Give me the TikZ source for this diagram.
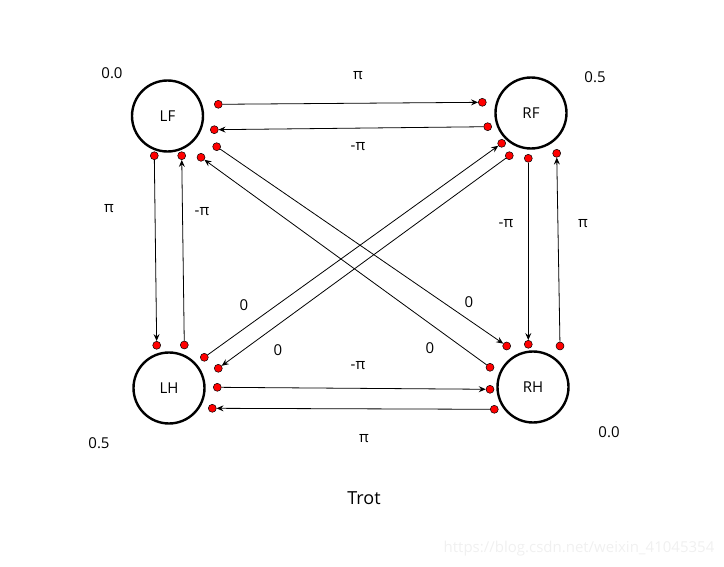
\documentclass[tikz,border=0pt]{standalone}
\usepackage{fontspec}
\setmainfont{Open Sans}
\usetikzlibrary{arrows.meta}
\begin{document}
\begin{tikzpicture}[x=1pt,y=-1pt,
  leg/.style={circle,draw=black,line width=2.4pt,minimum size=71pt,inner sep=0pt,font=\fontsize{15}{17}\selectfont},
  pin/.style={circle,draw=black,line width=0.5pt,fill=red,minimum size=8pt,inner sep=0pt},
  link/.style={line width=0.8pt,-{Stealth[length=7pt,width=6pt,inset=2.5pt]}},
  lab/.style={font=\fontsize{15}{17}\selectfont,inner sep=0pt}]
\useasboundingbox (0,0) rectangle (724,567);
% legs
\node[leg] (LF) at (167.5,116) {LF};
\node[leg] (RF) at (531,113) {RF};
\node[leg] (LH) at (169,388) {LH};
\node[leg] (RH) at (533,387) {RH};
% pins
\node[pin] (lf1) at (218.3,104.3) {};
\node[pin] (lf2) at (214.3,129.7) {};
\node[pin] (lf3) at (216.7,146.7) {};
\node[pin] (lf4) at (201,157.3) {};
\node[pin] (lf5) at (154.3,155.7) {};
\node[pin] (lf6) at (181.7,155.7) {};
\node[pin] (rf1) at (482.3,102.3) {};
\node[pin] (rf2) at (487.7,126.7) {};
\node[pin] (rf3) at (501.7,143.3) {};
\node[pin] (rf4) at (509.3,155.7) {};
\node[pin] (rf5) at (528.3,158.3) {};
\node[pin] (rf6) at (556.7,153.3) {};
\node[pin] (lh1) at (156.7,345.3) {};
\node[pin] (lh2) at (184.3,345) {};
\node[pin] (lh3) at (204.3,357.3) {};
\node[pin] (lh4) at (218.3,368.3) {};
\node[pin] (lh5) at (217.3,387.3) {};
\node[pin] (lh6) at (212.3,408.3) {};
\node[pin] (rh1) at (506.7,346) {};
\node[pin] (rh2) at (490,367.3) {};
\node[pin] (rh3) at (528.3,344.3) {};
\node[pin] (rh4) at (560,346) {};
\node[pin] (rh5) at (490,389.3) {};
\node[pin] (rh6) at (494.3,409.3) {};
% links
\draw[link] (lf1) -- (rf1);
\draw[link] (rf2) -- (lf2);
\draw[link] (lf3) -- (rh1);
\draw[link] (rh2) -- (lf4);
\draw[link] (lf5) -- (lh1);
\draw[link] (lh2) -- (lf6);
\draw[link] (lh3) -- (rf3);
\draw[link] (rf4) -- (lh4);
\draw[link] (lh5) -- (rh5);
\draw[link] (rh6) -- (lh6);
\draw[link] (rf5) -- (rh3);
\draw[link] (rh4) -- (rf6);
% phase labels
\node[lab] (pLF) at (112,73) {0.0};
\node[lab] (pRF) at (595,77) {0.5};
\node[lab] (pLH) at (99,443) {0.5};
\node[lab] (pRH) at (609,432) {0.0};
% link labels
\node[lab] (t1) at (358,76) {π};
\node[lab] (t2) at (358,147) {-π};
\node[lab] (t3) at (109,209) {π};
\node[lab] (t4) at (202,212) {-π};
\node[lab] (t5) at (506,224) {-π};
\node[lab] (t6) at (583,224) {π};
\node[lab] (t7) at (244,305) {0};
\node[lab] (t8) at (469,302) {0};
\node[lab] (t9) at (278,350) {0};
\node[lab] (t10) at (430,348) {0};
\node[lab] (t11) at (358,366) {-π};
\node[lab] (t12) at (364,439) {π};
\node[font=\fontsize{18}{21}\selectfont,inner sep=0pt] (title) at (364,498) {Trot};
\node[font=\fontsize{15}{17}\selectfont,text=black!6,inner sep=0pt] (wm) at (579,549) {https://blog.csdn.net/weixin\_41045354};
\end{tikzpicture}
\end{document}
